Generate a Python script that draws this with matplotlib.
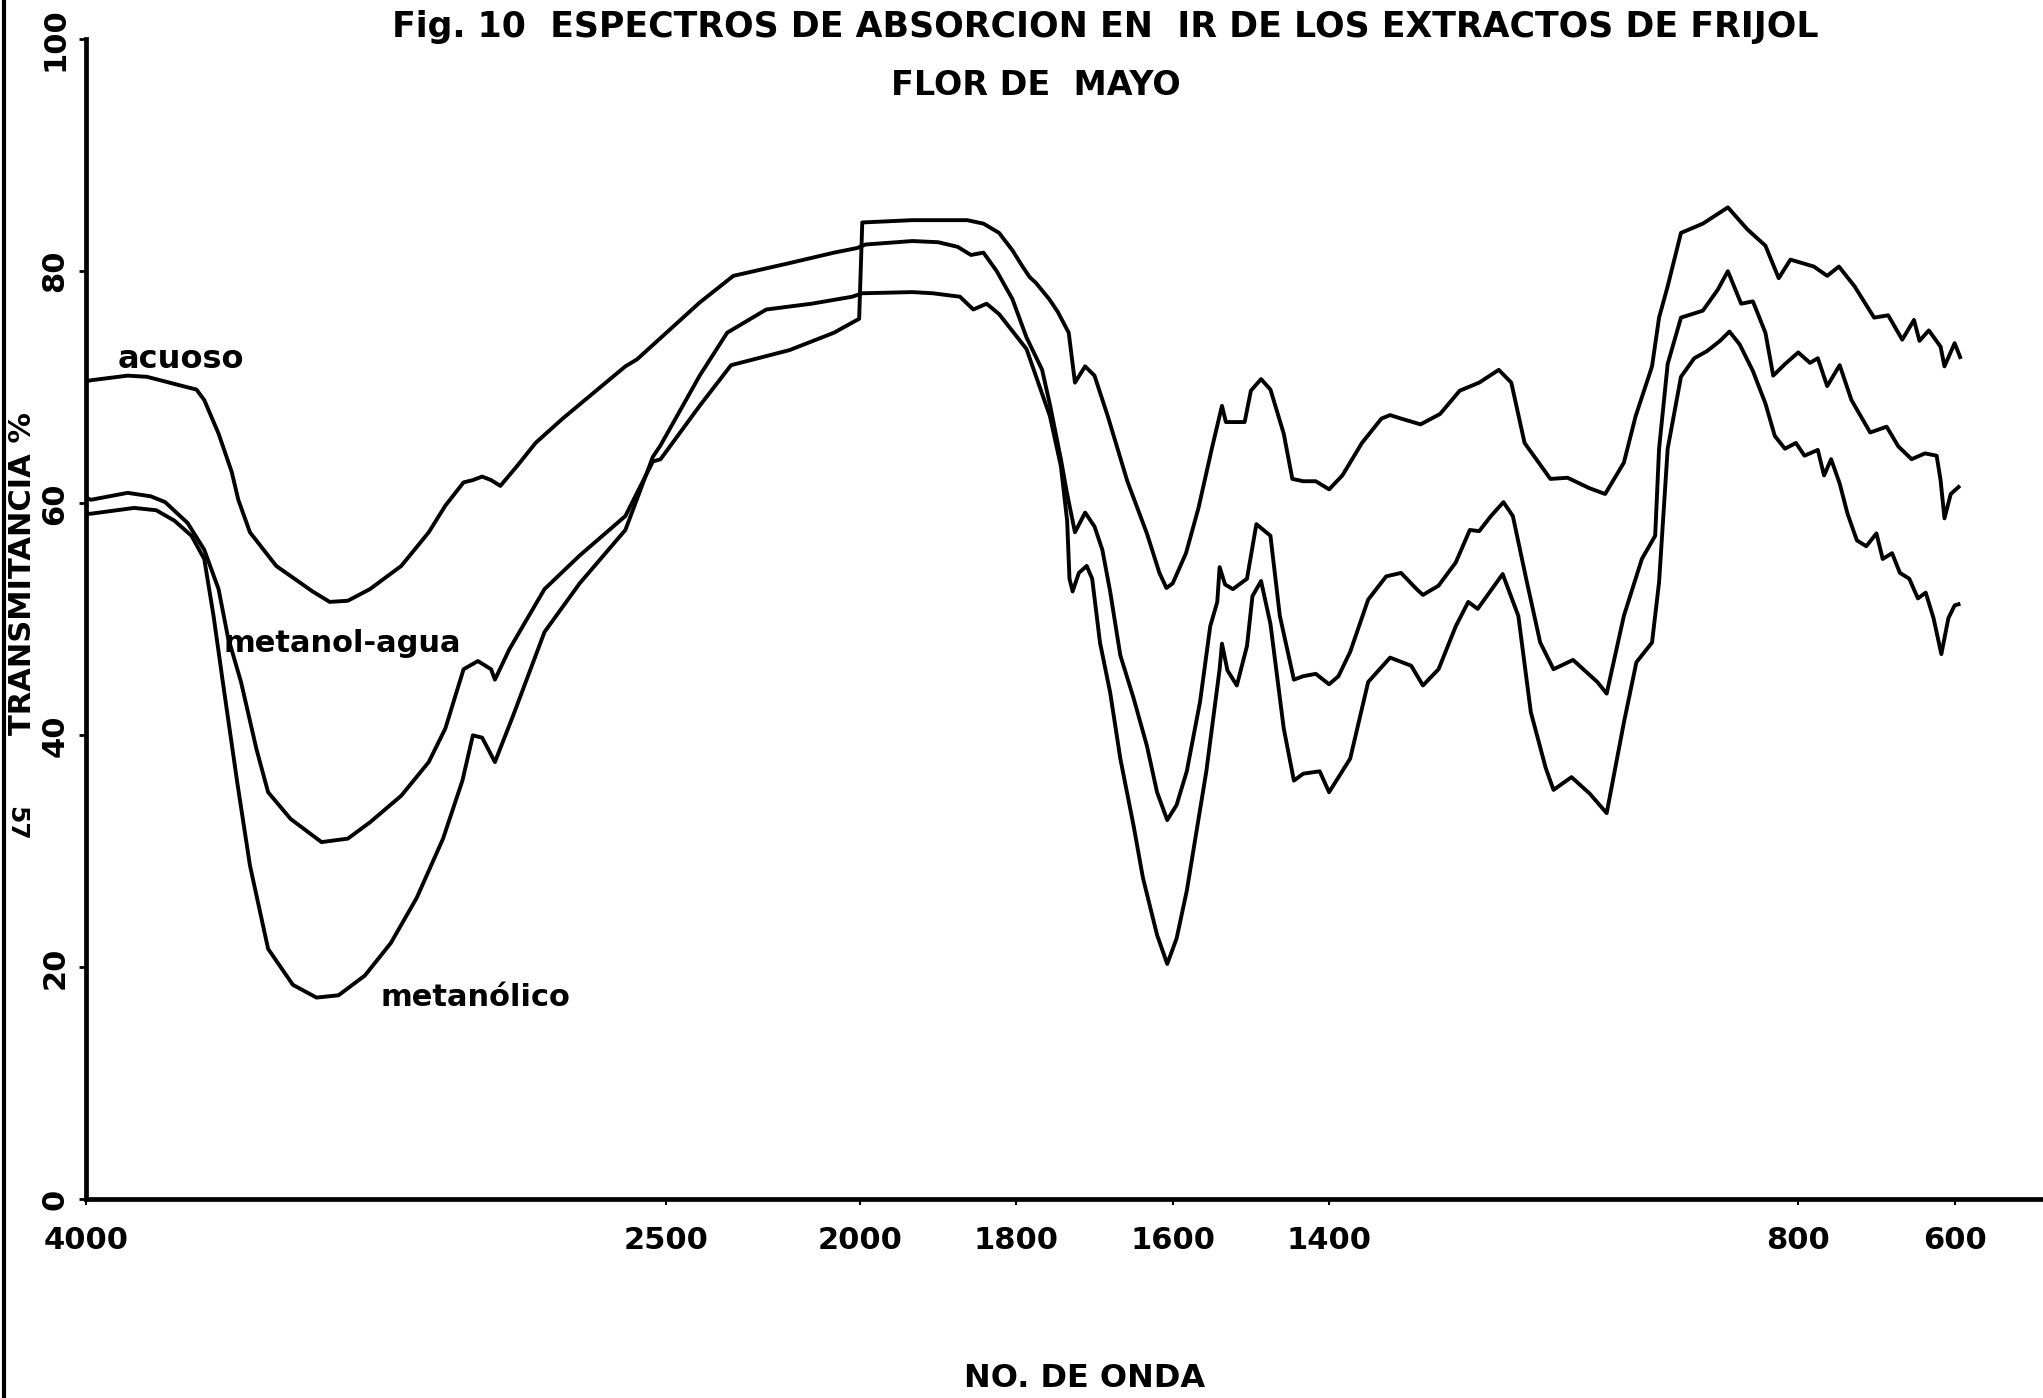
import matplotlib
matplotlib.use('Agg')
import matplotlib.pyplot as plt
import numpy as np
from matplotlib.lines import Line2D

plt.rcParams['font.family'] = ['DejaVu Sans']
plt.rcParams['font.weight'] = 'bold'

# ── data (wavenumber cm-1, transmittance %) ──
WN_ACUOSO = [4000, 3987, 3892, 3842, 3761, 3714, 3694, 3657, 3623, 3606, 3576,
             3508, 3414, 3370, 3323, 3266, 3185, 3114, 3071, 3024, 3000, 2976,
             2953, 2929, 2886, 2838, 2768, 2606, 2576, 2414, 2327, 2182, 2067,
             2007, 1993, 1933, 1900, 1875, 1858, 1842, 1825, 1805, 1787, 1767,
             1757, 1743, 1735, 1725, 1712, 1700, 1690, 1680, 1667, 1650, 1633,
             1620, 1607, 1595, 1582, 1565, 1552, 1543, 1540, 1533, 1523, 1505,
             1493, 1475, 1463, 1445, 1433, 1417, 1400, 1388, 1373, 1350, 1327,
             1308, 1288, 1280, 1260, 1238, 1220, 1208, 1193, 1177, 1165, 1147,
             1130, 1113, 1088, 1057, 1045, 1023, 1000, 983, 978, 967, 950, 922,
             903, 890, 873, 858, 842, 832, 817, 800, 785, 775, 763, 747, 732,
             708, 687, 672, 655, 638, 623, 618, 613, 605, 595]
T_ACUOSO = [70.5, 70.6, 71.0, 70.9, 70.2, 69.8, 68.9, 66.0, 62.7, 60.3, 57.5,
            54.6, 52.4, 51.5, 51.6, 52.6, 54.6, 57.5, 59.8, 61.8, 62.0, 62.3,
            62.0, 61.5, 63.2, 65.2, 67.3, 71.8, 72.4, 77.3, 79.6, 80.7, 81.6,
            82.0, 82.3, 82.6, 82.5, 82.1, 81.4, 81.6, 80.0, 77.6, 74.3, 71.5,
            68.5, 63.8, 60.8, 57.5, 59.2, 58.0, 56.0, 52.4, 46.9, 43.2, 39.1,
            35.1, 32.7, 34.0, 36.9, 42.9, 49.4, 51.5, 54.5, 53.0, 52.6, 53.5,
            58.2, 57.2, 50.3, 44.8, 45.1, 45.3, 44.4, 45.1, 47.2, 51.7, 53.7,
            54.0, 52.6, 52.1, 52.9, 54.9, 57.7, 57.6, 58.9, 60.1, 58.9, 53.2,
            48.0, 45.7, 46.5, 44.6, 43.6, 50.3, 55.2, 57.2, 64.7, 72.0, 76.0,
            76.6, 78.4, 80.0, 77.2, 77.4, 74.7, 71.0, 72.0, 73.0, 72.1, 72.5,
            70.1, 71.9, 68.9, 66.1, 66.6, 64.9, 63.8, 64.3, 64.1, 62.0, 58.7,
            60.8, 61.4]

WN_MET_AGUA = [4000, 3987, 3892, 3832, 3795, 3737, 3694, 3657, 3633, 3599, 3559,
               3529, 3471, 3391, 3323, 3266, 3185, 3114, 3071, 3024, 2987, 2953,
               2943, 2906, 2815, 2724, 2606, 2535, 2515, 2414, 2333, 2182, 2067,
               2002, 1997, 1933, 1863, 1842, 1822, 1805, 1792, 1783, 1775, 1758,
               1747, 1733, 1725, 1712, 1700, 1683, 1658, 1633, 1617, 1608, 1600,
               1583, 1567, 1550, 1537, 1532, 1508, 1500, 1487, 1475, 1458, 1447,
               1433, 1417, 1400, 1383, 1358, 1333, 1322, 1308, 1283, 1258, 1233,
               1208, 1183, 1167, 1150, 1117, 1095, 1067, 1047, 1023, 1008, 987,
               978, 967, 950, 922, 890, 865, 842, 825, 810, 780, 763, 748, 728,
               703, 685, 667, 652, 645, 633, 618, 613, 600, 593]
T_MET_AGUA = [60.5, 60.3, 60.9, 60.6, 60.1, 58.3, 56.0, 52.6, 48.5, 44.6, 38.8,
              35.1, 32.8, 30.8, 31.1, 32.5, 34.8, 37.7, 40.6, 45.7, 46.4, 45.7,
              44.8, 47.4, 52.6, 55.5, 58.9, 63.6, 63.8, 68.4, 71.9, 73.2, 74.7,
              75.9, 84.2, 84.4, 84.4, 84.1, 83.3, 81.8, 80.4, 79.5, 79.0, 77.6,
              76.5, 74.7, 70.4, 71.8, 71.0, 67.5, 61.9, 57.4, 54.0, 52.7, 53.1,
              55.7, 59.6, 64.7, 68.4, 67.0, 67.0, 69.7, 70.7, 69.8, 66.0, 62.1,
              61.9, 61.9, 61.2, 62.4, 65.2, 67.3, 67.6, 67.3, 66.8, 67.7, 69.7,
              70.4, 71.5, 70.4, 65.2, 62.1, 62.2, 61.3, 60.8, 63.5, 67.5, 71.8,
              76.0, 78.7, 83.3, 84.1, 85.5, 83.6, 82.2, 79.4, 81.0, 80.4, 79.6,
              80.4, 78.7, 76.0, 76.2, 74.1, 75.8, 74.0, 74.9, 73.5, 71.8, 73.8,
              72.6]

WN_METANOLICO = [4000, 3987, 3875, 3818, 3771, 3727, 3694, 3670, 3646, 3609, 3576,
                 3529, 3465, 3404, 3347, 3279, 3212, 3145, 3077, 3027, 3000, 2976,
                 2943, 2896, 2815, 2724, 2606, 2535, 2515, 2414, 2343, 2242, 2125,
                 2020, 1997, 1933, 1907, 1872, 1855, 1838, 1822, 1787, 1757, 1743,
                 1735, 1732, 1728, 1720, 1710, 1703, 1693, 1680, 1667, 1650, 1638,
                 1620, 1607, 1595, 1582, 1557, 1540, 1537, 1530, 1518, 1505, 1498,
                 1487, 1475, 1458, 1445, 1433, 1412, 1400, 1373, 1350, 1322, 1295,
                 1280, 1260, 1238, 1222, 1210, 1178, 1158, 1142, 1123, 1113, 1090,
                 1067, 1045, 1023, 1007, 987, 978, 967, 950, 933, 917, 900, 888,
                 875, 858, 842, 830, 817, 803, 792, 775, 767, 758, 747, 737, 725,
                 713, 700, 692, 680, 670, 658, 647, 637, 627, 617, 608, 600, 595]
T_METANOLICO = [59.1, 59.1, 59.6, 59.4, 58.5, 57.2, 55.2, 50.3, 44.6, 36.0, 28.8,
                21.6, 18.5, 17.4, 17.6, 19.3, 22.1, 26.0, 31.1, 36.1, 40.0, 39.8,
                37.7, 41.7, 48.9, 53.1, 57.7, 64.0, 65.0, 71.0, 74.7, 76.7, 77.2,
                77.8, 78.1, 78.2, 78.1, 77.8, 76.7, 77.2, 76.3, 73.3, 67.5, 63.2,
                58.5, 53.5, 52.4, 54.0, 54.6, 53.5, 48.0, 43.7, 38.0, 32.2, 27.7,
                22.8, 20.3, 22.5, 26.6, 36.9, 45.7, 47.9, 45.6, 44.3, 47.7, 52.0,
                53.3, 49.6, 40.6, 36.1, 36.7, 36.9, 35.1, 38.0, 44.6, 46.7, 46.0,
                44.3, 45.7, 49.4, 51.5, 50.9, 53.9, 50.3, 42.0, 37.2, 35.3, 36.4,
                35.0, 33.3, 41.1, 46.3, 48.0, 53.2, 64.7, 70.9, 72.5, 73.1, 74.0,
                74.8, 73.7, 71.4, 68.6, 65.8, 64.7, 65.2, 64.1, 64.6, 62.4, 63.8,
                61.7, 59.1, 56.8, 56.3, 57.4, 55.2, 55.7, 54.0, 53.5, 51.8, 52.3,
                50.1, 47.0, 50.1, 51.2, 51.3]

X_TICKS = [4000, 2500, 2000, 1800, 1600, 1400, 800, 600]
Y_TICKS = [0, 20, 40, 60, 80, 100]


# chart paper: 4000-2000 compressed to half the scale of 2000-600
def fwd(w):
    w = np.asarray(w, dtype=float)
    return np.where(w > 2000, 2000 + (w - 2000) * 0.495, w)


def inv(u):
    u = np.asarray(u, dtype=float)
    return np.where(u > 2000, 2000 + (u - 2000) / 0.495, u)


fig = plt.figure(figsize=(20.43, 13.98), dpi=100)
ax = fig.add_axes([0.042, 0.142, 0.958, 0.830])

for wn, tr in [(WN_ACUOSO, T_ACUOSO), (WN_MET_AGUA, T_MET_AGUA),
               (WN_METANOLICO, T_METANOLICO)]:
    ax.plot(wn, tr, color='black', linewidth=2.8, solid_joinstyle='round')

ax.set_xscale('function', functions=(fwd, inv))
ax.set_xlim(4000, 487)
ax.set_ylim(0, 100)
ax.set_xticks(X_TICKS)
ax.set_xticklabels([str(v) for v in X_TICKS])
ax.xaxis.set_minor_locator(matplotlib.ticker.NullLocator())
ax.set_yticks(Y_TICKS)
ax.set_yticklabels([str(v) for v in Y_TICKS])

ax.spines[['top', 'right']].set_visible(False)
for s in ['left', 'bottom']:
    ax.spines[s].set_linewidth(3.4)
ax.tick_params(axis='x', length=4, width=1.5, pad=15, labelsize=22)
ax.tick_params(axis='y', length=5, width=2, pad=7, labelsize=22,
               labelrotation=90)
for lab in ax.get_yticklabels():
    lab.set_va('center')

# curve labels
ax.text(3919, 72.4, 'acuoso', fontsize=23, fontweight='bold', va='center', ha='left')
ax.text(3643, 47.9, 'metanol-agua', fontsize=22, fontweight='bold', va='center', ha='left')
ax.text(3239, 17.4, 'metanólico', fontsize=22, fontweight='bold', va='center', ha='left')

fig.text(0.541, 0.981, 'Fig. 10  ESPECTROS DE ABSORCION EN  IR DE LOS EXTRACTOS DE FRIJOL',
         ha='center', va='center', fontsize=25, fontweight='bold')
fig.text(0.507, 0.939, 'FLOR DE  MAYO', ha='center', va='center',
         fontsize=24, fontweight='bold')
fig.text(0.531, 0.014, 'NO. DE ONDA', ha='center', va='center',
         fontsize=23, fontweight='bold')
fig.text(0.011, 0.59, 'TRANSMITANCIA %', ha='center', va='center',
         rotation=90, fontsize=22, fontweight='bold')
fig.text(0.008, 0.411, '57', ha='center', va='center', rotation=-90,
         fontsize=18, fontweight='bold')

# scan border on the left edge
fig.add_artist(Line2D([0.002, 0.002], [0.0, 1.0], transform=fig.transFigure,
                      color='black', linewidth=3))

fig.savefig('out.png', dpi=100, facecolor='white')
